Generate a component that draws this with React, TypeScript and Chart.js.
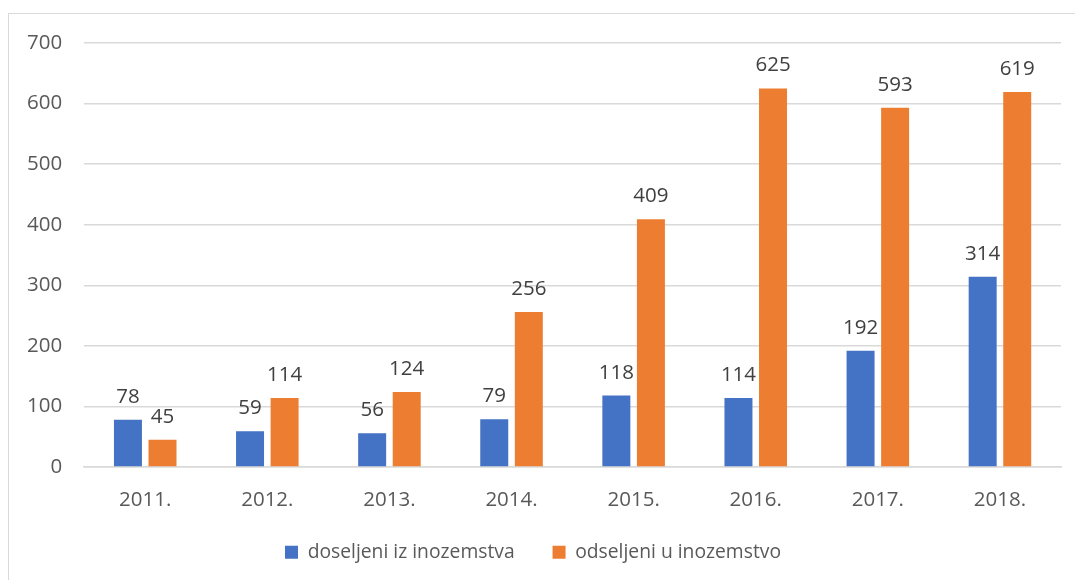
import React, { useEffect, useRef } from "react";
import { Chart, registerables } from "chart.js";

Chart.register(...registerables);

const categories = ["2011.", "2012.", "2013.", "2014.", "2015.", "2016.", "2017.", "2018."];
const doseljeni = [78, 59, 56, 79, 118, 114, 192, 314];
const odseljeni = [45, 114, 124, 256, 409, 625, 593, 619];
const yTicks = [0, 100, 200, 300, 400, 500, 600, 700];

const FONT = "'Open Sans', 'Noto Sans', sans-serif";

const dataLabels = {
  id: "dataLabels",
  afterDatasetsDraw(chart: any) {
    const ctx = chart.ctx;
    ctx.save();
    ctx.font = `20.5px ${FONT}`;
    ctx.fillStyle = "#404040";
    ctx.textAlign = "center";
    ctx.textBaseline = "alphabetic";
    chart.data.datasets.forEach((ds: any, i: number) => {
      const meta = chart.getDatasetMeta(i);
      meta.data.forEach((bar: any, j: number) => {
        ctx.fillText(String(ds.data[j]), bar.x, bar.y - 17);
      });
    });
    ctx.restore();
  },
};

export default function App() {
  const ref = useRef<HTMLCanvasElement | null>(null);
  useEffect(() => {
    document.body.style.overflow = "hidden";
    const chart = new Chart(ref.current!, {
      type: "bar",
      data: {
        labels: categories,
        datasets: [
          {
            label: "doseljeni iz inozemstva",
            data: doseljeni,
            backgroundColor: "#4472C4",
            categoryPercentage: 0.566,
            barPercentage: 0.81,
          },
          {
            label: "odseljeni u inozemstvo",
            data: odseljeni,
            backgroundColor: "#ED7D31",
            categoryPercentage: 0.566,
            barPercentage: 0.81,
          },
        ],
      },
      options: {
        animation: false,
        responsive: false,
        devicePixelRatio: 1,
        layout: { padding: { left: 5, right: 14, top: 43, bottom: 8 } },
        plugins: {
          tooltip: { enabled: false },
          legend: {
            position: "bottom",
            labels: {
              boxWidth: 13,
              boxHeight: 13,
              padding: 9,
              color: "#595959",
              font: { family: FONT, size: 19.3 },
              generateLabels: (c: any) => {
                const items = Chart.defaults.plugins.legend.labels.generateLabels(c);
                return items.map((it: any, i: number) =>
                  i < items.length - 1 ? { ...it, text: it.text + "\u2002\u2002\u2002" } : it
                );
              },
            },
          },
        },
        scales: {
          x: {
            grid: { display: false, drawTicks: false },
            border: { display: true, color: "#D9D9D9", width: 1.5 },
            ticks: { color: "#595959", font: { family: FONT, size: 20.5 }, padding: 21 },
          },
          y: {
            min: 0,
            max: 700,
            afterBuildTicks: (scale: any) => {
              scale.ticks = yTicks.map((v) => ({ value: v }));
            },
            grid: { color: "#D9D9D9", lineWidth: 1.5, drawTicks: false },
            border: { display: false },
            ticks: { color: "#595959", font: { family: FONT, size: 20.5 }, padding: 22 },
          },
        },
      },
      plugins: [dataLabels],
    });
    return () => chart.destroy();
  }, []);
  return (
    <div style={{ position: "absolute", left: 0, top: 0, width: 1075, height: 580, background: "#fff" }}>
      <div
        style={{
          position: "absolute",
          left: 8,
          top: 13,
          width: 1100,
          height: 600,
          borderLeft: "1.5px solid #D9D9D9",
          borderTop: "1.5px solid #D9D9D9",
        }}
      />
      <canvas ref={ref} width={1075} height={580} style={{ position: "absolute", left: 0, top: 0 }} />
    </div>
  );
}
